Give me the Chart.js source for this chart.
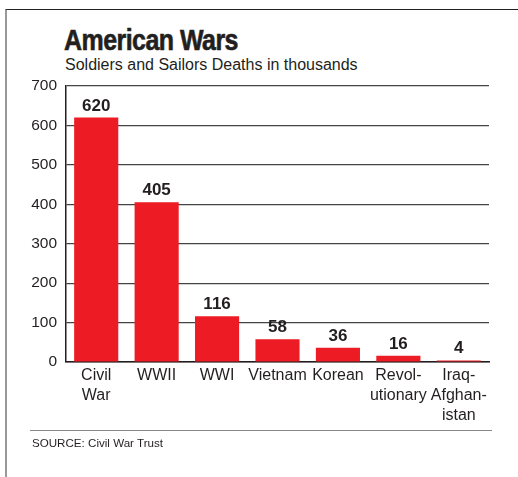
<!DOCTYPE html>
<html>
<head>
<meta charset="utf-8">
<script src="https://cdn.jsdelivr.net/npm/chart.js@4/dist/chart.umd.min.js"></script>
<style>
    body { margin: 0; background: #fff; }
    #wrap { position: relative; width: 518px; height: 477px; overflow: hidden; font-family: "Liberation Sans", Arial, sans-serif; }
    #frame { position: absolute; left: 5px; top: 9px; right: -2px; bottom: -2px; border-left: 2px solid #999; border-top: 1px solid #222; }
    #title { position: absolute; left: 64px; top: 24px; font-weight: bold; font-size: 29px; color: #231f20; letter-spacing: -0.6px; transform: scaleX(0.86); transform-origin: left top; -webkit-text-stroke: 0.6px #231f20; }
    #subtitle { position: absolute; left: 65px; top: 56px; font-size: 16px; color: #231f20; }
    #rule { position: absolute; left: 30px; top: 430px; width: 462px; border-top: 1px solid #888; }
    #source { position: absolute; left: 32px; top: 436px; font-size: 11.6px; color: #231f20; }
    #chart { position: absolute; left: 0; top: 0; }
</style>
</head>
<body>
<div id="wrap">
    <div id="frame"></div>
    <div id="title">American Wars</div>
    <div id="subtitle">Soldiers and Sailors Deaths in thousands</div>
    <canvas id="chart" width="518" height="477"></canvas>
    <div id="rule"></div>
    <div id="source">SOURCE: Civil War Trust</div>
</div>
<script>
// chart data
const wars = [['Civil', 'War'], 'WWII', 'WWI', 'Vietnam', 'Korean', ['Revol-', 'utionary'], ['Iraq-', 'Afghan-', 'istan']];
const deaths = [620, 405, 116, 58, 36, 16, 4];
const yTicks = [0, 100, 200, 300, 400, 500, 600, 700];

// write the value above each bar
const valueLabels = {
    id: 'valueLabels',
    afterDatasetsDraw(chart) {
        const ctx = chart.ctx;
        const meta = chart.getDatasetMeta(0);
        ctx.save();
        ctx.font = 'bold 17px "Liberation Sans", Arial, sans-serif';
        ctx.fillStyle = '#231f20';
        ctx.textAlign = 'center';
        ctx.textBaseline = 'alphabetic';
        meta.data.forEach((bar, i) => {
            ctx.fillText(deaths[i], bar.x, bar.y - 7);
        });
        ctx.restore();
    }
};

new Chart(document.getElementById('chart'), {
    type: 'bar',
    data: {
        labels: wars,
        datasets: [{
            data: deaths,
            backgroundColor: '#ed1c24',
            borderWidth: 0,
            categoryPercentage: 1,
            barPercentage: 0.73
        }]
    },
    options: {
        responsive: false,
        animation: false,
        events: [],
        layout: { padding: { left: 0, top: 86, right: 29, bottom: 0 } },
        plugins: {
            legend: { display: false },
            tooltip: { enabled: false }
        },
        scales: {
            x: {
                afterFit: scale => { scale.height = 115; },
                grid: { display: false, drawTicks: false },
                border: { color: '#231f20', width: 1.5 },
                ticks: {
                    color: '#231f20',
                    font: { size: 16, family: '"Liberation Sans", Arial, sans-serif', lineHeight: 1.25 },
                    padding: 4,
                    maxRotation: 0,
                    autoSkip: false
                }
            },
            y: {
                min: 0,
                max: 700,
                afterFit: scale => { scale.width = 66; },
                afterBuildTicks: scale => { scale.ticks = yTicks.map(v => ({ value: v })); },
                grid: { color: '#444', lineWidth: 1.2, drawTicks: false },
                border: { color: '#231f20', width: 1.5 },
                ticks: {
                    color: '#231f20',
                    font: { size: 15.5, family: '"Liberation Sans", Arial, sans-serif' },
                    padding: 9
                }
            }
        }
    },
    plugins: [valueLabels]
});
</script>
</body>
</html>
